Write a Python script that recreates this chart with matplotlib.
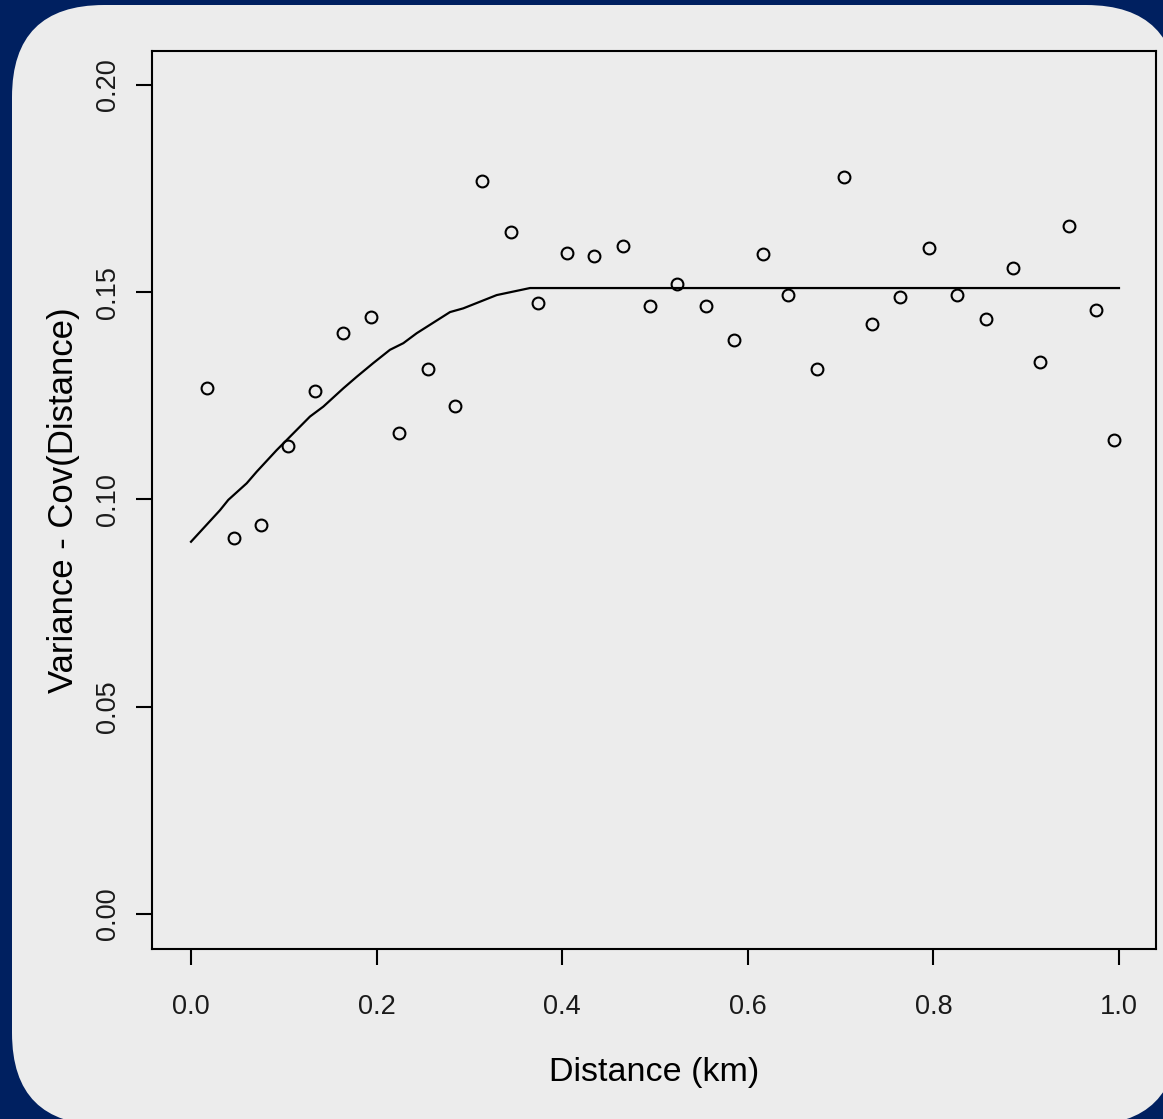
import matplotlib
matplotlib.use("Agg")
import matplotlib.pyplot as plt
from matplotlib.patches import FancyBboxPatch

plt.rcParams['font.family'] = ['Liberation Sans', 'DejaVu Sans']

# Empirical points (distance in km, variance - cov)
dist = [0.0169, 0.0463, 0.0758, 0.1048, 0.1339, 0.1635, 0.1943, 0.2238, 0.2551,
        0.2842, 0.3136, 0.3445, 0.3743, 0.4052, 0.4346, 0.4655, 0.4949, 0.5240,
        0.5553, 0.5848, 0.6164, 0.6436, 0.6749, 0.7037, 0.7335, 0.7643, 0.7956,
        0.8251, 0.8564, 0.8855, 0.9145, 0.9458, 0.9749, 0.9946]
semivar = [0.1270, 0.0908, 0.0938, 0.1130, 0.1262, 0.1401, 0.1441, 0.1161, 0.1314,
           0.1226, 0.1768, 0.1646, 0.1475, 0.1594, 0.1588, 0.1611, 0.1467, 0.1520,
           0.1467, 0.1384, 0.1593, 0.1493, 0.1314, 0.1777, 0.1423, 0.1489, 0.1607,
           0.1493, 0.1436, 0.1559, 0.1331, 0.1659, 0.1458, 0.1144]

# Fitted model line
model_x = [0.0, 0.0312, 0.0402, 0.0600, 0.0708, 0.0923, 0.1282, 0.1426, 0.1641,
           0.1786, 0.1964, 0.2144, 0.2288, 0.2432, 0.2791, 0.2934, 0.3294, 0.3653, 1.0]
model_y = [0.0898, 0.0974, 0.0999, 0.1039, 0.1067, 0.1119, 0.1200, 0.1224, 0.1268,
           0.1296, 0.1329, 0.1361, 0.1377, 0.1401, 0.1452, 0.1461, 0.1493, 0.1510, 0.1510]

x_ticks = [0.0, 0.2, 0.4, 0.6, 0.8, 1.0]
x_tick_labels = ["0.0", "0.2", "0.4", "0.6", "0.8", "1.0"]
y_ticks = [0.00, 0.05, 0.10, 0.15, 0.20]
y_tick_labels = ["0.00", "0.05", "0.10", "0.15", "0.20"]

W, H = 1163, 1119
navy = "#002060"
panel = "#ECECEC"

fig = plt.figure(figsize=(W / 100, H / 100), dpi=100, facecolor=navy)

# rounded light panel
px0, px1, py_top, py_bot = 12, 1178, 5, 1125
r = 92
patch = FancyBboxPatch(((px0) / 100, (H - py_bot) / 100),
                       (px1 - px0) / 100, (py_bot - py_top) / 100,
                       boxstyle=f"round,pad=0,rounding_size={r/100}",
                       transform=fig.dpi_scale_trans, facecolor=panel,
                       edgecolor="none", zorder=-10)
fig.patches.append(patch)

ax_l, ax_r, ax_t, ax_b = 152.5, 1156, 50.5, 949
ax = fig.add_axes([ax_l / W, (H - ax_b) / H, (ax_r - ax_l) / W, (ax_b - ax_t) / H])
ax.set_zorder(5)
ax.set_facecolor(panel)

ax.plot(model_x, model_y, color="black", lw=1.6, zorder=2)
ax.plot(dist, semivar, linestyle="none", marker="o", markersize=8.5,
        markerfacecolor="none", markeredgecolor="black", markeredgewidth=1.5, zorder=3)

ax.set_xlim(-0.0415, 1.0399)
ax.set_ylim(-0.00844, 0.2083)

for s in ax.spines.values():
    s.set_linewidth(1.5)
    s.set_color("black")

ax.set_xticks(x_ticks)
ax.set_xticklabels(x_tick_labels)
ax.set_yticks(y_ticks)
ax.set_yticklabels(y_tick_labels, rotation=90, va="center")
ax.tick_params(axis="both", length=11.5, width=1.5, color="black",
               labelsize=19.5, labelcolor="#1a1a1a")
ax.tick_params(axis="x", pad=21)
ax.tick_params(axis="y", pad=11)

ax.set_xlabel("Distance (km)", fontsize=24.5, color="black")
ax.set_ylabel("Variance - Cov(Distance)", fontsize=25, color="black")
ax.xaxis.set_label_coords((654 - ax_l) / (ax_r - ax_l), (ax_b - 1073) / (ax_b - ax_t))
ax.xaxis.label.set_va("center")
ax.yaxis.set_label_coords((64 - ax_l) / (ax_r - ax_l), 0.5)
ax.yaxis.label.set_va("center")

fig.savefig("out.png", dpi=100, facecolor=navy)
